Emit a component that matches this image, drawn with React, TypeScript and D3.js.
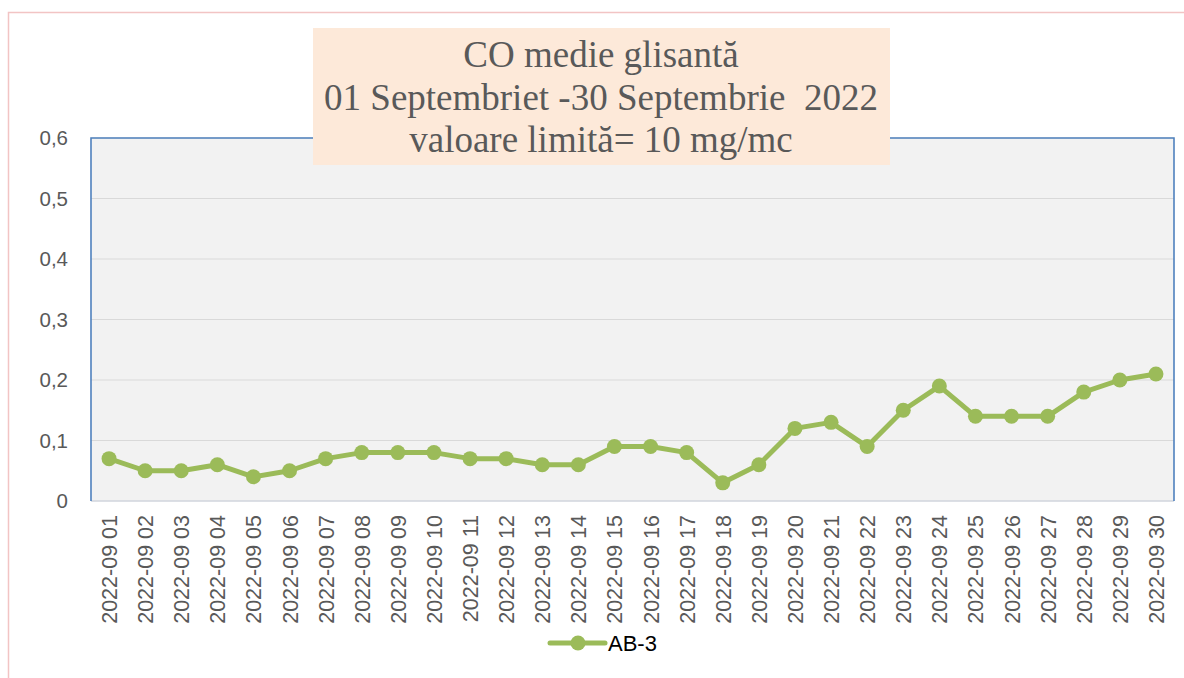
import React from 'react'
import * as d3 from 'd3'

// chart data
const days = [
  '2022-09 01', '2022-09 02', '2022-09 03', '2022-09 04', '2022-09 05', '2022-09 06',
  '2022-09 07', '2022-09 08', '2022-09 09', '2022-09 10', '2022-09 11', '2022-09 12',
  '2022-09 13', '2022-09 14', '2022-09 15', '2022-09 16', '2022-09 17', '2022-09 18',
  '2022-09 19', '2022-09 20', '2022-09 21', '2022-09 22', '2022-09 23', '2022-09 24',
  '2022-09 25', '2022-09 26', '2022-09 27', '2022-09 28', '2022-09 29', '2022-09 30'
]
const ab3 = [
  0.07, 0.05, 0.05, 0.06, 0.04, 0.05, 0.07, 0.08, 0.08, 0.08,
  0.07, 0.07, 0.06, 0.06, 0.09, 0.09, 0.08, 0.03, 0.06, 0.12,
  0.13, 0.09, 0.15, 0.19, 0.14, 0.14, 0.14, 0.18, 0.20, 0.21
]
const yTicks = [0, 0.1, 0.2, 0.3, 0.4, 0.5, 0.6]
const titleLines = [
  'CO medie glisantă',
  '01 Septembriet -30 Septembrie  2022',
  'valoare limită= 10 mg/mc'
]
const seriesName = 'AB-3'

const W = 1184
const H = 678
const plot = { left: 91, top: 138, right: 1174, bottom: 501 }
const green = '#9BBB59'
const labelFont = '"Liberation Sans", Arial, sans-serif'

export default function App() {
  const x = d3.scaleBand().domain(days).range([plot.left, plot.right])
  const y = d3.scaleLinear().domain([0, 0.6]).range([plot.bottom, plot.top])
  const cx = (d: string) => (x(d) as number) + x.bandwidth() / 2

  const line = d3.line<number>()
    .x((_, i) => cx(days[i]))
    .y(d => y(d))

  const fmt = (v: number) => (v === 0 ? '0' : d3.format('.1f')(v).replace('.', ','))

  return (
    <div style={{ position: 'fixed', left: 0, top: 0, width: W, height: H, background: '#fff' }}>
      <svg width={W} height={H}>
        {/* outer chart border */}
        <path d={`M8.5,${H} V12.5 H${W}`} fill="none" stroke="#F2C4C4" strokeWidth={1.5} />

        {/* plot area */}
        <rect x={plot.left} y={plot.top} width={plot.right - plot.left} height={plot.bottom - plot.top} fill="#F2F2F2" />
        {yTicks.slice(1).map(t => (
          <line key={t} x1={plot.left} x2={plot.right} y1={y(t)} y2={y(t)} stroke="#D9D9D9" strokeWidth={1.2} />
        ))}
        <line x1={plot.left} x2={plot.right} y1={plot.bottom} y2={plot.bottom} stroke="#D0D5DD" strokeWidth={1.5} />
        <path
          d={`M${plot.left},${plot.bottom} V${plot.top} H${plot.right} V${plot.bottom}`}
          fill="none" stroke="#4F81BD" strokeWidth={1.6}
        />

        {/* y tick labels */}
        {yTicks.map(t => (
          <text key={t} x={68} y={y(t)} dy="0.35em" textAnchor="end" fontFamily={labelFont} fontSize={20.5} fill="#595959">
            {fmt(t)}
          </text>
        ))}

        {/* x tick labels */}
        {days.map(d => (
          <text key={d} transform={`translate(${cx(d) + 8},515) rotate(-90)`} textAnchor="end"
            fontFamily={labelFont} fontSize={21.5} fill="#595959">
            {d}
          </text>
        ))}

        {/* series */}
        <path d={line(ab3) || ''} fill="none" stroke={green} strokeWidth={5} strokeLinejoin="round" />
        {ab3.map((v, i) => (
          <circle key={i} cx={cx(days[i])} cy={y(v)} r={7.5} fill={green} />
        ))}

        {/* title box */}
        <rect x={313} y={28} width={577} height={137} fill="#FDE9D9" />
        {titleLines.map((t, i) => (
          <text key={i} x={601} y={67 + i * 42.5} textAnchor="middle" xmlSpace="preserve"
            fontFamily='"Liberation Serif", "Times New Roman", serif' fontSize={37} fill="#595959">
            {t}
          </text>
        ))}

        {/* legend */}
        <line x1={550} x2={605} y1={643} y2={643} stroke={green} strokeWidth={5} strokeLinecap="round" />
        <circle cx={578} cy={643} r={7.5} fill={green} />
        <text x={608} y={643} dy="0.35em" fontFamily={labelFont} fontSize={22} fill="#000">
          {seriesName}
        </text>
      </svg>
    </div>
  )
}
